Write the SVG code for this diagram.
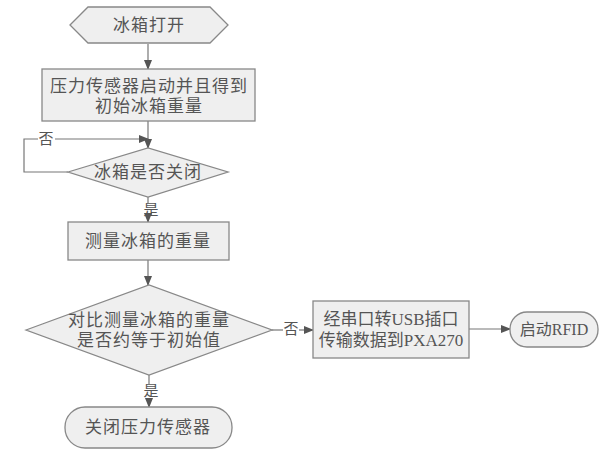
<svg xmlns="http://www.w3.org/2000/svg" width="610" height="462" viewBox="0 0 610 462">
<defs>
<marker id="ah" markerWidth="10" markerHeight="10" refX="9" refY="5" orient="auto" markerUnits="userSpaceOnUse">
<path d="M0,1 L10,5 L0,9 Z" fill="#555"/>
</marker>
<style>
.s{fill:#efefef;stroke:#888;stroke-width:1.3}
.t{font-family:"Liberation Serif","Noto Sans CJK SC",serif;font-size:17px;fill:#555;text-anchor:middle;dominant-baseline:central;letter-spacing:1px}
.n{letter-spacing:0px}
.l{font-family:"Liberation Serif","Noto Sans CJK SC",serif;font-size:15px;fill:#555;text-anchor:middle;dominant-baseline:central}
.c{fill:none;stroke:#777;stroke-width:1.2}
</style>
</defs>
<rect width="610" height="462" fill="#fff"/>
<g id="connectors">
<line class="c" x1="148" y1="44" x2="148" y2="69" marker-end="url(#ah)"/>
<line class="c" x1="148" y1="121" x2="148" y2="148" marker-end="url(#ah)"/>
<polyline class="c" points="68,172 24,172 24,139 38,139"/>
<line class="c" x1="55" y1="139" x2="148" y2="139" marker-end="url(#ah)"/>
<line class="c" x1="148" y1="197" x2="148" y2="203"/>
<line class="c" x1="148" y1="216" x2="148" y2="222" marker-end="url(#ah)"/>
<line class="c" x1="148" y1="260" x2="148" y2="285" marker-end="url(#ah)"/>
<line class="c" x1="149" y1="375" x2="149" y2="384"/>
<line class="c" x1="149" y1="399" x2="149" y2="407" marker-end="url(#ah)"/>
<line class="c" x1="272" y1="330" x2="283" y2="330"/>
<line class="c" x1="299" y1="330" x2="313" y2="330" marker-end="url(#ah)"/>
<line class="c" x1="469" y1="329" x2="510" y2="329" marker-end="url(#ah)"/>
<text class="l" x="46" y="139">否</text>
<text class="l" x="151" y="210">是</text>
<text class="l" x="151" y="391">是</text>
<text class="l" x="291" y="329">否</text>
</g>
<g id="start">
<polygon class="s" points="70,25 88,7 210,7 228,25 210,43 88,43"/>
<text class="t" x="149" y="25">冰箱打开</text>
</g>
<g id="init">
<rect class="s" x="42" y="69" width="213" height="52"/>
<text class="t" x="149" y="86">压力传感器启动并且得到</text>
<text class="t" x="149" y="106">初始冰箱重量</text>
</g>
<g id="closed">
<polygon class="s" points="68,172 148,148 228,172 148,197"/>
<text class="t" x="148" y="172">冰箱是否关闭</text>
</g>
<g id="measure">
<rect class="s" x="68" y="222" width="161" height="38"/>
<text class="t" x="148" y="241">测量冰箱的重量</text>
</g>
<g id="compare">
<polygon class="s" points="26,330 149,285 272,330 149,375"/>
<text class="t" x="149" y="320">对比测量冰箱的重量</text>
<text class="t" x="149" y="340">是否约等于初始值</text>
</g>
<g id="end">
<rect class="s" x="65" y="407" width="167" height="41" rx="20" ry="20"/>
<text class="t" x="148" y="427">关闭压力传感器</text>
</g>
<g id="transfer">
<rect class="s" x="313" y="301" width="156" height="57"/>
<text class="t n" x="391" y="319">经串口转USB插口</text>
<text class="t n" x="391" y="340">传输数据到PXA270</text>
</g>
<g id="rfid">
<rect class="s" x="510" y="312" width="88" height="35" rx="17" ry="17"/>
<text class="t n" x="554" y="329" style="font-size:16px">启动RFID</text>
</g>
</svg>
